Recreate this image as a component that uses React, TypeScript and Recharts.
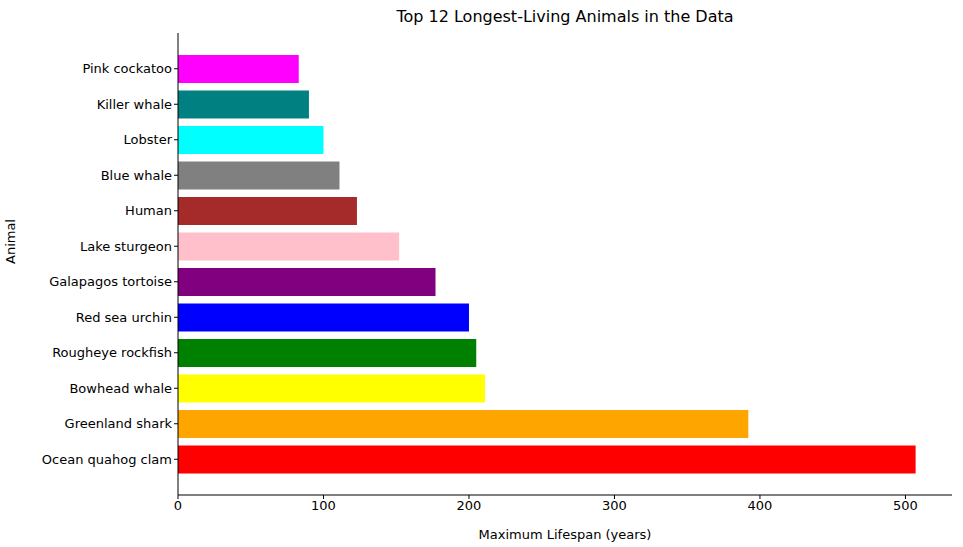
import { BarChart, Bar, XAxis, YAxis, Cell } from "recharts";

const animals = [
  "Ocean quahog clam",
  "Greenland shark",
  "Bowhead whale",
  "Rougheye rockfish",
  "Red sea urchin",
  "Galapagos tortoise",
  "Lake sturgeon",
  "Human",
  "Blue whale",
  "Lobster",
  "Killer whale",
  "Pink cockatoo",
];
const lifespans = [507, 392, 211, 205, 200, 177, 152, 123, 111, 100, 90, 83];
const barColors = [
  "red", "orange", "yellow", "green", "blue", "purple",
  "pink", "brown", "gray", "cyan", "teal", "magenta",
];
const xTicks = [0, 100, 200, 300, 400, 500];

const data = animals.map((animal, i) => ({ animal, lifespan: lifespans[i] }));
const font = "DejaVu Sans, sans-serif";

export default function App() {
  return (
    <div style={{ position: "absolute", left: 0, top: 0, width: 963, height: 547, background: "#fff" }}>
      <div
        style={{
          position: "absolute", top: 7, left: 178, width: 774, textAlign: "center",
          fontFamily: font, fontSize: 16, color: "#000",
        }}
      >
        Top 12 Longest-Living Animals in the Data
      </div>
      <BarChart
        width={963}
        height={547}
        data={data}
        layout="vertical"
        margin={{ top: 33, right: 11, left: 0, bottom: 0 }}
        barCategoryGap="20%"
      >
        <XAxis
          type="number"
          dataKey="lifespan"
          domain={[0, 532]}
          ticks={xTicks}
          allowDataOverflow
          stroke="#000"
          height={52}
          tick={{ fill: "#000", fontFamily: font, fontSize: 13 }}
          tickSize={4}
          label={{ value: "Maximum Lifespan (years)", position: "insideBottom", offset: 8, fill: "#000", fontFamily: font, fontSize: 13 }}
        />
        <XAxis xAxisId="top" orientation="top" type="number" domain={[0, 532]} stroke="#000" tick={false} tickLine={false} height={0} />
        <YAxis
          type="category"
          dataKey="animal"
          reversed
          width={178}
          stroke="#000"
          padding={{ top: 18, bottom: 18 }}
          tick={{ fill: "#000", fontFamily: font, fontSize: 13 }}
          tickSize={4}
          interval={0}
          label={{ value: "Animal", angle: -90, position: "insideLeft", offset: 10, fill: "#000", fontFamily: font, fontSize: 13 }}
        />
        <YAxis yAxisId="right" orientation="right" type="category" dataKey="animal" stroke="#000" tick={false} tickLine={false} width={0} />
        <Bar dataKey="lifespan" isAnimationActive={false} barSize={28}>
          {data.map((d, i) => (
            <Cell key={d.animal} fill={barColors[i]} />
          ))}
        </Bar>
      </BarChart>
    </div>
  );
}
